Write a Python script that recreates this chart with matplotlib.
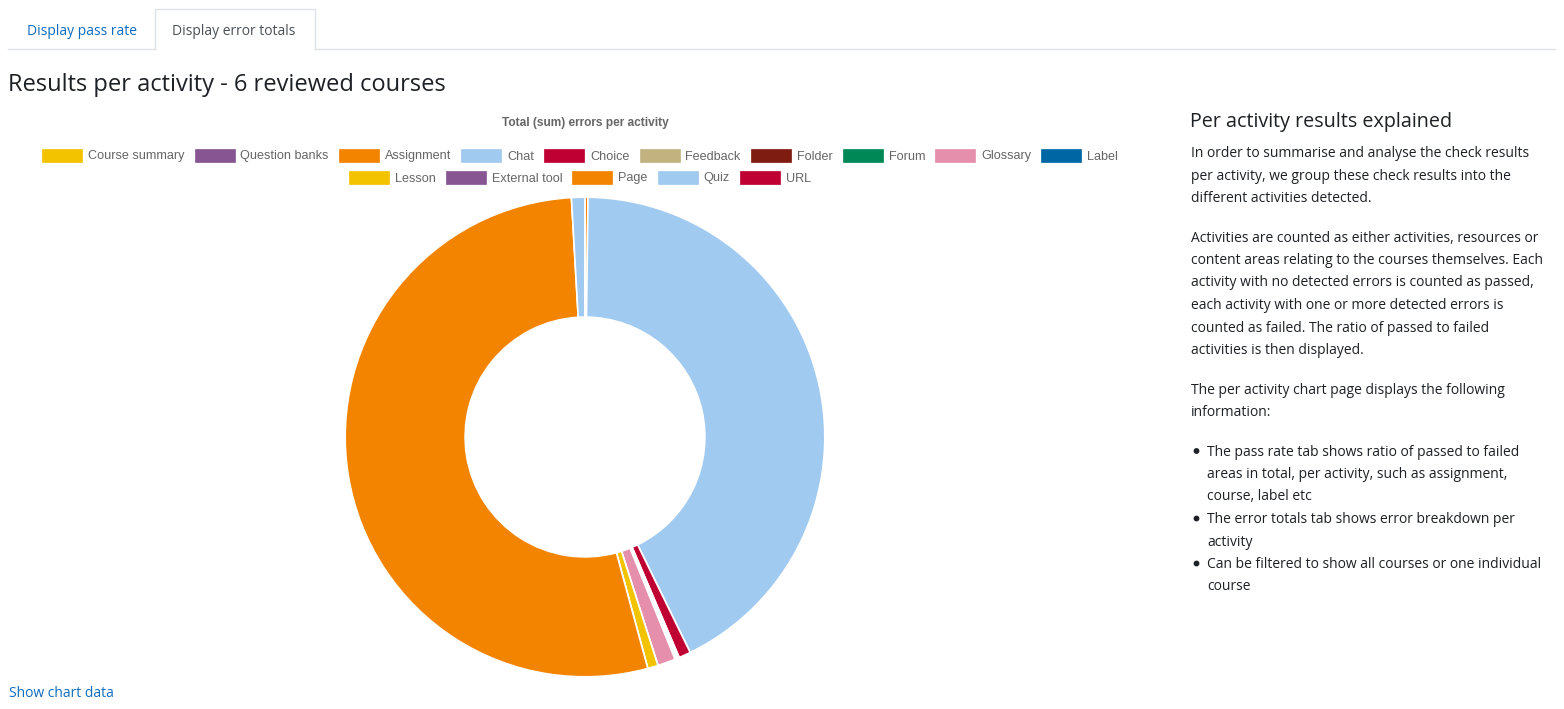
import matplotlib.pyplot as plt
from matplotlib.patches import Rectangle, Circle

# data
labels = ["Course summary", "Question banks", "Assignment", "Chat", "Choice",
          "Feedback", "Folder", "Forum", "Glossary", "Label",
          "Lesson", "External tool", "Page", "Quiz", "URL"]
errors = [0, 0, 2, 424, 8, 1, 1, 1, 12, 0, 7, 0, 531, 9, 0]
palette = ["#f3c300", "#875692", "#f38400", "#a1caf1", "#be0032",
           "#c2b280", "#7f1c12", "#008856", "#e68fac", "#0067a5"]
colors = [palette[i % len(palette)] for i in range(len(labels))]

page_title = "Results per activity - 6 reviewed courses"
chart_title = "Total (sum) errors per activity"
tabs = ["Display pass rate", "Display error totals"]
side_title = "Per activity results explained"
side_lines = [
    ("p", "In order to summarise and analyse the check results"),
    ("p", "per activity, we group these check results into the"),
    ("p", "different activities detected."),
    ("gap", ""),
    ("p", "Activities are counted as either activities, resources or"),
    ("p", "content areas relating to the courses themselves. Each"),
    ("p", "activity with no detected errors is counted as passed,"),
    ("p", "each activity with one or more detected errors is"),
    ("p", "counted as failed. The ratio of passed to failed"),
    ("p", "activities is then displayed."),
    ("gap", ""),
    ("p", "The per activity chart page displays the following"),
    ("p", "information:"),
    ("gap", ""),
    ("b", "The pass rate tab shows ratio of passed to failed"),
    ("c", "areas in total, per activity, such as assignment,"),
    ("c", "course, label etc"),
    ("b", "The error totals tab shows error breakdown per"),
    ("c", "activity"),
    ("b", "Can be filtered to show all courses or one individual"),
    ("c", "course"),
]

W, H = 1564, 709
fig = plt.figure(figsize=(W / 100, H / 100), dpi=100)
bg = fig.add_axes([0, 0, 1, 1])
bg.set_xlim(0, W)
bg.set_ylim(H, 0)
bg.axis("off")

ui_font = "Open Sans"
link = "#0f6cbf"
dark = "#1d2125"
border = "#dee2e6"

# tabs
bg.plot([8, 155], [49, 49], color=border, lw=1)
bg.plot([315, 1555], [49, 49], color=border, lw=1)
bg.plot([155, 155, 315, 315], [49, 9, 9, 49], color=border, lw=1)
bg.text(27, 31.5, tabs[0], color=link, fontsize=10, family=ui_font, va="center")
bg.text(172, 31.5, tabs[1], color="#495057", fontsize=10, family=ui_font, va="center")

bg.text(8, 85, page_title, color=dark, fontsize=17, family=ui_font, va="center")

# chart title and legend
bg.text(585, 123, chart_title, color="#666666", fontsize=8.6, fontweight="bold",
        family="Liberation Sans", ha="center", va="center")

renderer = fig.canvas.get_renderer()
items = []
for lab, col in zip(labels, colors):
    t = bg.text(0, 0, lab, color="#666666", fontsize=9.1,
                family="Liberation Sans", va="center")
    tw = t.get_window_extent(renderer).width
    items.append((t, col, tw))

rows, cur, cur_w = [], [], 0
for it in items:
    w = 40 + 6 + it[2] + 10
    if cur and cur_w + w > 1120:
        rows.append((cur, cur_w))
        cur, cur_w = [], 0
    cur.append(it)
    cur_w += w
rows.append((cur, cur_w))

for r, (row, rw) in enumerate(rows):
    x = 580 - (rw - 10) / 2
    y = 155 + r * 22
    for t, col, tw in row:
        bg.add_patch(Rectangle((x, y - 6.5), 40, 13, facecolor=col,
                               edgecolor=col, lw=0.5))
        t.set_position((x + 46, y + 1.5))
        x += 40 + 6 + tw + 10

# donut
cx, cy, R = 585, 437, 241
ax = fig.add_axes([(cx - R) / W, 1 - (cy + R) / H, 2 * R / W, 2 * R / H])
ax.pie(errors, colors=colors, startangle=90, counterclock=False,
       wedgeprops=dict(width=0.5, edgecolor="white", linewidth=1.2))
ax.set_xlim(-1.005, 1.005)
ax.set_ylim(-1.005, 1.005)
ax.set_aspect("equal")
ax.axis("off")

bg.text(9, 693.5, "Show chart data", color=link, fontsize=10, family=ui_font, va="center")

# side panel
bg.text(1190, 122, side_title, color=dark, fontsize=14.2, family=ui_font, va="center")
y = 153.5
for kind, txt in side_lines:
    if kind == "gap":
        y += 17
        continue
    if kind == "b":
        bg.add_patch(Circle((1196.5, y - 1), 2.2, color=dark))
        bg.text(1207, y, txt, color=dark, fontsize=10, family=ui_font, va="center")
    elif kind == "c":
        bg.text(1207, y, txt, color=dark, fontsize=10, family=ui_font, va="center")
    else:
        bg.text(1191, y, txt, color=dark, fontsize=10, family=ui_font, va="center")
    y += 22.5

fig.savefig("out.png", dpi=100, facecolor="white")
